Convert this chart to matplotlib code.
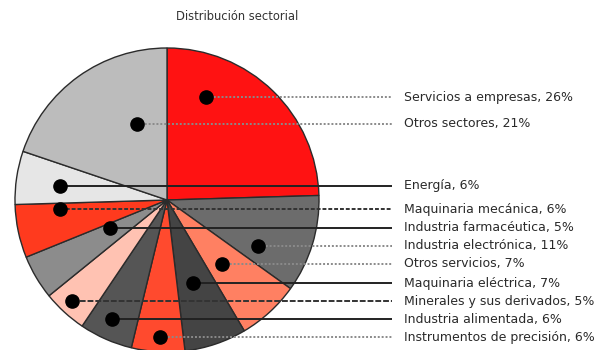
import matplotlib
matplotlib.use("Agg")
import matplotlib.pyplot as plt

# Sector shares, in the clockwise order they appear from 12 o'clock
sectors = [
    "Servicios a empresas",
    "Industria electrónica",
    "Otros servicios",
    "Maquinaria eléctrica",
    "Instrumentos de precisión",
    "Industria alimentada",
    "Minerales y sus derivados",
    "Industria farmacéutica",
    "Maquinaria mecánica",
    "Energía",
    "Otros sectores",
]
shares = [26, 11, 7, 7, 6, 6, 5, 5, 6, 6, 21]

# Order in which the labels are listed down the right-hand side
label_order = [
    "Servicios a empresas",
    "Otros sectores",
    "Energía",
    "Maquinaria mecánica",
    "Industria farmacéutica",
    "Industria electrónica",
    "Otros servicios",
    "Maquinaria eléctrica",
    "Minerales y sus derivados",
    "Industria alimentada",
    "Instrumentos de precisión",
]

title = "Distribución sectorial"

# ---- styling / layout (pixel coordinates, y downwards) ----
colors = {
    "Servicios a empresas": "#ff1212",
    "Industria electrónica": "#6c6c6c",
    "Otros servicios": "#ff8062",
    "Maquinaria eléctrica": "#444444",
    "Instrumentos de precisión": "#ff4a2e",
    "Industria alimentada": "#555555",
    "Minerales y sus derivados": "#ffc2b2",
    "Industria farmacéutica": "#8c8c8c",
    "Maquinaria mecánica": "#ff3a1e",
    "Energía": "#e6e6e6",
    "Otros sectores": "#bcbcbc",
}
label_y = [97, 124, 186, 209, 228, 246, 264, 283, 301, 319, 337]
dot_x = [206, 137, 60, 60, 110, 258, 222, 193, 72, 112, 160]
line_styles = [
    ("#8a8a8a", (0, (1, 1))),
    ("#8a8a8a", (0, (1, 1))),
    ("#222222", "-"),
    ("#333333", (0, (2, 1))),
    ("#222222", "-"),
    ("#8a8a8a", (0, (1, 1))),
    ("#8a8a8a", (0, (1, 1))),
    ("#222222", "-"),
    ("#333333", (0, (3, 1))),
    ("#222222", "-"),
    ("#8a8a8a", (0, (1, 1))),
]
W, H = 601, 350
cx, cy, R = 167, 200, 152
line_end = 392
text_x = 404

fig = plt.figure(figsize=(W / 100, H / 100), dpi=100)
ax = fig.add_axes([0, 0, 1, 1])

# y axis points down, so "counterclockwise" in data space reads clockwise
ax.pie(
    shares,
    colors=[colors[s] for s in sectors],
    center=(cx, cy),
    radius=R,
    startangle=-90,
    counterclock=True,
    wedgeprops=dict(edgecolor="#2b2b2b", linewidth=1.0),
)
ax.set_xlim(0, W)
ax.set_ylim(H, 0)
ax.set_aspect("auto")
ax.axis("off")

value_of = dict(zip(sectors, shares))
for name, y, x0, (lc, ls) in zip(label_order, label_y, dot_x, line_styles):
    ax.plot([x0, line_end], [y, y], color=lc, linestyle=ls, linewidth=1.4,
            zorder=3, solid_capstyle="butt")
    ax.plot([x0], [y], marker="o", markersize=9.5, color="black", zorder=4)
    ax.text(text_x, y, f"{name}, {value_of[name]}%", fontsize=9.0,
            color="#2a2a2a", va="center", ha="left", family="DejaVu Sans")

ax.text(237, 16, title, fontsize=8.3, color="#333333", ha="center",
        va="center", family="DejaVu Sans")

fig.savefig("out.png", dpi=100)
